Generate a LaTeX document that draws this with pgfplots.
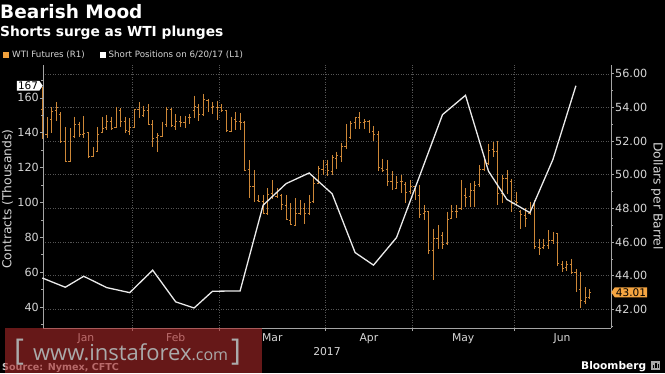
\documentclass[border=0pt]{standalone}
\usepackage{fontspec}
\setmainfont{DejaVu Sans}
\newfontfamily\wmfont{Open Sans}
\usepackage{pgfplots}
\pgfplotsset{compat=1.18}
\usepackage{pgfplotstable}
\usetikzlibrary{shapes.symbols}

\definecolor{barcol}{RGB}{205,135,55}
\definecolor{legorange}{RGB}{240,160,60}
\definecolor{tagorange}{RGB}{245,165,65}
\definecolor{linecol}{RGB}{235,235,235}
\definecolor{axiscol}{RGB}{165,165,165}
\definecolor{labcol}{RGB}{215,215,215}
\definecolor{gridcol}{RGB}{85,85,85}
\definecolor{wmred}{RGB}{170,40,40}
\definecolor{wmtext}{RGB}{170,170,170}

\pgfdeclareplotmark{otick}{\pgfpathmoveto{\pgfqpoint{-1.5pt}{0pt}}\pgfpathlineto{\pgfqpoint{0pt}{0pt}}\pgfusepathqstroke}
\pgfdeclareplotmark{ctick}{\pgfpathmoveto{\pgfqpoint{0pt}{0pt}}\pgfpathlineto{\pgfqpoint{1.5pt}{0pt}}\pgfusepathqstroke}

% WTI futures daily bars (trading-day index from 3 Jan 2017): open high low close
\pgfplotstableread{
i o h l c
0 53.90 55.24 52.11 52.33
1 52.40 53.40 52.20 53.26
2 53.30 54.00 52.50 53.76
3 53.80 54.30 53.20 53.99
4 53.60 53.70 51.90 51.96
5 52.00 52.85 50.77 50.82
6 50.80 52.75 50.75 52.25
7 52.30 53.45 52.20 53.01
8 53.00 53.15 52.25 52.37
9 52.40 53.50 52.20 52.48
10 52.50 52.55 50.97 51.08
11 51.10 51.66 51.05 51.37
12 51.40 52.85 51.37 52.42
13 52.50 53.45 52.45 52.75
14 52.80 53.55 52.65 53.18
15 53.20 53.45 52.65 52.75
16 52.80 54.04 52.75 53.78
17 53.80 53.95 52.85 53.17
18 53.20 53.45 52.45 52.63
19 52.60 53.35 52.35 52.81
20 52.80 53.90 52.75 53.88
21 53.90 54.30 53.35 53.54
22 53.50 54.10 53.40 53.83
23 53.80 54.20 52.95 53.01
24 53.00 53.25 51.66 52.17
25 52.20 52.45 51.37 52.34
26 52.30 53.15 52.25 53.00
27 53.00 54.04 52.85 53.86
28 53.90 53.95 52.85 52.93
29 52.90 53.60 52.65 53.20
30 53.20 53.50 52.85 53.11
31 53.10 53.50 52.75 53.36
32 53.40 53.60 53.00 53.40
33 53.80 54.70 53.35 54.06
34 54.00 54.20 53.20 53.59
35 53.60 54.80 53.50 54.45
36 54.40 54.50 53.70 53.99
37 54.00 54.30 53.60 54.05
38 54.00 54.40 53.25 54.01
39 54.00 54.20 53.70 53.83
40 53.80 53.85 52.55 52.61
41 52.60 53.45 52.55 53.33
42 53.30 53.75 52.65 53.20
43 53.20 53.65 52.65 53.14
44 53.10 53.20 50.25 50.28
45 50.30 50.87 48.60 49.28
46 49.30 50.28 48.40 48.49
47 48.50 48.80 48.35 48.40
48 48.40 48.80 47.65 47.72
49 47.70 49.20 47.60 48.86
50 48.90 49.70 48.55 48.75
51 48.70 49.20 48.60 48.78
52 48.80 48.85 47.90 48.22
53 48.20 48.80 47.30 47.34
54 47.30 48.30 47.00 47.04
55 47.00 48.60 46.95 47.70
56 47.70 48.50 47.60 47.97
57 48.00 48.30 47.10 47.73
58 47.70 48.80 47.60 48.37
59 48.40 49.90 48.30 49.51
60 49.50 50.50 49.45 50.35
61 50.30 50.90 50.00 50.60
62 50.60 50.90 49.90 50.24
63 50.20 51.15 49.96 51.03
64 51.00 51.35 50.36 51.15
65 51.10 51.90 50.75 51.70
66 51.70 53.00 51.50 52.24
67 52.20 53.20 52.15 53.08
68 53.10 53.45 52.70 53.40
69 53.40 53.74 52.70 53.11
70 53.10 53.30 52.70 53.18
71 53.20 53.25 52.50 52.65
72 52.60 52.90 52.00 52.41
73 52.40 52.60 50.20 50.44
74 50.40 50.95 50.15 50.27
75 50.30 50.85 49.30 49.62
76 49.60 50.20 49.10 49.23
77 49.20 49.90 49.15 49.56
78 49.60 50.00 48.90 49.62
79 49.40 49.55 48.30 48.97
80 49.00 49.70 48.85 49.33
81 49.30 49.35 48.50 48.84
82 48.80 49.40 47.40 47.66
83 47.70 48.20 47.30 47.82
84 47.80 47.85 45.30 45.52
85 45.50 46.80 43.76 46.22
86 46.20 47.00 45.60 46.43
87 46.40 46.60 45.60 45.88
88 45.90 47.80 45.85 47.33
89 47.40 48.20 47.35 47.83
90 47.80 48.20 47.40 47.84
91 48.00 49.70 47.90 48.85
92 48.80 49.20 48.10 48.66
93 48.70 49.50 48.10 49.07
94 49.10 49.60 48.10 49.35
95 49.40 50.55 49.27 50.33
96 50.30 51.10 50.25 50.73
97 50.70 51.84 50.55 51.47
98 51.50 51.94 51.05 51.36
99 51.40 52.00 48.20 48.90
100 48.90 50.00 48.30 49.80
101 49.80 50.26 48.87 49.66
102 49.60 49.76 47.78 48.32
103 48.40 49.00 48.20 48.36
104 47.80 47.90 46.80 47.66
105 47.60 48.00 46.90 47.40
106 47.70 48.40 47.60 48.19
107 48.20 48.48 45.60 45.72
108 45.70 46.20 45.20 45.64
109 45.70 46.20 45.60 45.83
110 45.80 46.70 45.60 46.08
111 46.10 46.60 45.90 46.46
112 46.50 46.55 44.60 44.73
113 44.70 44.90 44.20 44.46
114 44.50 44.90 44.30 44.68
115 44.70 45.00 44.10 44.20
116 44.20 44.40 43.00 43.23
117 43.20 44.20 42.05 42.53
118 42.50 43.30 42.30 42.74
119 42.70 43.20 42.60 43.01
}\wtidata

% Short positions (thousands of contracts), weekly
\pgfplotstableread{
i s
0 56.6
5 51.3
9 57.6
14 51.1
19 48.2
24 61.1
29 42.9
33 39.4
37 49.0
43 49.2
48 98.4
53 110.8
58 116.9
63 105.0
68 71.2
72 64.0
77 79.8
82 115.0
87 150.4
92 161.5
97 117.9
101 101.7
106 94.1
111 124.6
116 167.0
}\shortdata

\begin{document}
\begin{tikzpicture}
\useasboundingbox (0,0) rectangle (665pt,373pt);
\fill[black] (0,0) rectangle (665pt,373pt);

% ---- right axis: WTI futures ----
\begin{axis}[
  at={(43pt,45pt)}, anchor=south west,
  width=568pt, height=263pt, scale only axis,
  xmin=0.15, xmax=123.63, ymin=40.89, ymax=56.52,
  axis y line*=right, axis x line*=bottom,
  axis line style={draw=axiscol, line width=0.7pt, -},
  xtick={19.5,38.5,61.5,80.5,102.5},
  xticklabels={,,,,},
  extra x ticks={9.5,29,50,71,91.5,113},
  extra x tick labels={Jan,Feb,Mar,Apr,May,Jun},
  extra x tick style={grid=none, major tick length=0pt},
  ytick={42,44,...,56},
  minor ytick={41,43,...,55},
  grid=major,
  major grid style={draw=gridcol, dash pattern=on 1pt off 1.5pt, line width=0.5pt},
  tick align=outside,
  major tick length=3pt, minor tick length=2pt,
  tick style={draw=axiscol, line width=0.6pt},
  tick label style={font=\fontsize{11.2}{11.2}\selectfont, text=labcol},
  xticklabel style={font=\fontsize{10.8}{10.8}\selectfont, yshift=-2pt},
  /pgf/number format/assume math mode=true,
  yticklabel style={/pgf/number format/fixed, /pgf/number format/fixed zerofill, /pgf/number format/precision=2, inner sep=1pt},
  clip=false,
]
\addplot[barcol, line width=0.75pt, quiver={u=0, v=\thisrow{l}-\thisrow{h}}] table[x=i, y=h] {\wtidata};
\addplot[barcol, only marks, mark=otick, mark options={line width=0.7pt}] table[x=i, y=o] {\wtidata};
\addplot[barcol, only marks, mark=ctick, mark options={line width=0.7pt}] table[x=i, y=c] {\wtidata};
\node[signal, signal to=west, signal pointer angle=110, fill=tagorange, text=black,
      inner xsep=1.2pt, inner ysep=1pt, anchor=west, font=\fontsize{10.5}{10.5}\selectfont]
      at (axis cs:123.63,43.01) {43.01};
\end{axis}

% ---- left axis: short positions ----
\begin{axis}[
  at={(43pt,45pt)}, anchor=south west,
  width=568pt, height=263pt, scale only axis,
  xmin=0.15, xmax=123.63, ymin=27.9, ymax=178.9,
  axis y line*=left, axis x line=none,
  axis line style={draw=axiscol, line width=0.7pt, -},
  ytick={40,60,...,160},
  minor ytick={30,50,...,170},
  tick align=outside,
  major tick length=3pt, minor tick length=2pt,
  tick style={draw=axiscol, line width=0.6pt},
  tick label style={font=\fontsize{11.2}{11.2}\selectfont, text=labcol},
  /pgf/number format/assume math mode=true,
  yticklabel style={inner sep=1pt},
  clip=false,
]
\addplot[linecol, line width=1.3pt] table[x=i, y=s] {\shortdata};
\node[signal, signal to=east, signal pointer angle=110, fill=white, text=black,
      inner xsep=1.2pt, inner ysep=1pt, anchor=east, font=\fontsize{10.5}{10.5}\selectfont]
      at (axis cs:0.15,167) {167};
\end{axis}

% ---- titles and legend ----
\node[anchor=base west, inner sep=0, text=white, font=\bfseries\fontsize{18.5}{18.5}\selectfont] at (0pt,354pt) {Bearish Mood};
\node[anchor=base west, inner sep=0, text=white, font=\bfseries\fontsize{13.8}{13.8}\selectfont] at (0pt,336pt) {Shorts surge as WTI plunges};
\fill[legorange] (3pt,315pt) rectangle (9pt,321pt);
\node[anchor=base west, inner sep=0, text=labcol, font=\fontsize{8.7}{8.7}\selectfont] at (12pt,315.5pt) {WTI Futures (R1)};
\fill[white] (100pt,315pt) rectangle (106pt,321pt);
\node[anchor=base west, inner sep=0, text=labcol, font=\fontsize{8.7}{8.7}\selectfont] at (108.5pt,315.5pt) {Short Positions on 6/20/17 (L1)};

% ---- axis titles ----
\node[rotate=90, text=labcol, font=\fontsize{12.3}{12.3}\selectfont] at (7.5pt,174pt) {Contracts (Thousands)};
\node[rotate=-90, text=labcol, font=\fontsize{12.3}{12.3}\selectfont] at (657pt,177pt) {Dollars per Barrel};
\node[text=labcol, font=\fontsize{10.8}{10.8}\selectfont] at (327pt,21pt) {2017};

% ---- footer ----
\node[anchor=base west, inner sep=0, text=labcol!90!gray, font=\bfseries\fontsize{9.6}{9.6}\selectfont] at (2pt,2.5pt) {Source: Nymex, CFTC};
\node[anchor=base west, inner sep=0, text=white, font=\bfseries\fontsize{10.6}{10.6}\selectfont] at (581pt,4pt) {Bloomberg};
\fill[gray!70] (651pt,3pt) rectangle (660pt,12pt);
\fill[black] (653pt,5pt) rectangle (654.3pt,8pt);
\fill[black] (655.3pt,5pt) rectangle (656.6pt,10pt);
\fill[black] (657.6pt,5pt) rectangle (658.9pt,9pt);

% ---- watermark ----
\fill[wmred, opacity=0.6] (5pt,0pt) rectangle (262pt,45pt);
\node[anchor=base west, inner sep=0, text=wmtext, font=\wmfont] at (14pt,13pt)
  {{\fontsize{30}{30}\selectfont [}\hspace{9pt}{\fontsize{22}{22}\selectfont www.instaforex}{\fontsize{16}{16}\selectfont .com}\hspace{3pt}{\fontsize{30}{30}\selectfont ]}};
\end{tikzpicture}
\end{document}
